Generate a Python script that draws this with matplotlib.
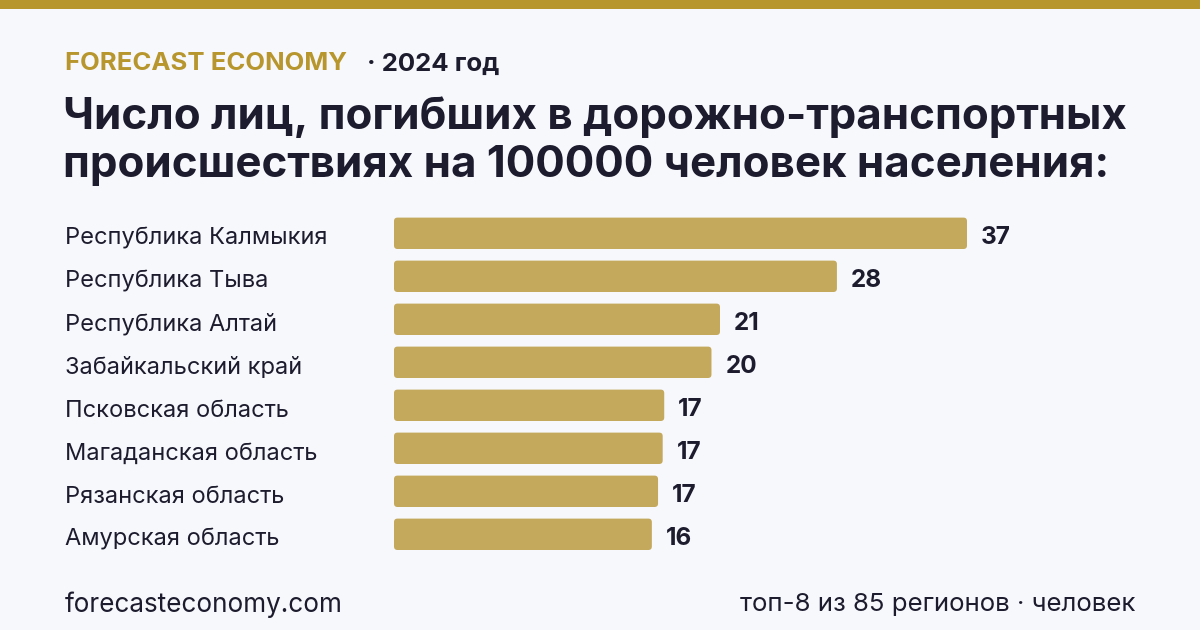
import matplotlib
matplotlib.use("Agg")
import matplotlib.pyplot as plt
from matplotlib import transforms
from matplotlib.patches import FancyBboxPatch, Rectangle

regions = ["Республика Калмыкия", "Республика Тыва", "Республика Алтай",
           "Забайкальский край", "Псковская область", "Магаданская область",
           "Рязанская область", "Амурская область"]
values = [37.0, 28.6, 21.05, 20.5, 17.45, 17.35, 17.05, 16.65]
value_labels = ["37", "28", "21", "20", "17", "17", "17", "16"]

brand = "FORECAST ECONOMY"
year_text = "· 2024 год"
title_lines = ["Число лиц, погибших в дорожно-транспортных",
               "происшествиях на 100000 человек населения:"]
footer_left = "forecasteconomy.com"
footer_right = "топ-8 из 85 регионов · человек"

BG = "#f7f8fc"
GOLD = "#b8962e"
BAR = "#c4a95c"
DARK = "#1c1c2e"
FONT = ["Inter", "DejaVu Sans"]
plt.rcParams["font.family"] = FONT

W, H, DPI = 1200, 630, 100
PT = 72 / DPI  # points per pixel
fig = plt.figure(figsize=(W / DPI, H / DPI), dpi=DPI, facecolor=BG)

def fx(px):
    return px / W

def fy(py):
    return 1 - py / H

# top gold strip
fig.patches.append(Rectangle((0, fy(9)), 1, 9 / H, transform=fig.transFigure,
                             facecolor=GOLD, edgecolor="none", zorder=5))

# header
fig.text(fx(65), fy(70.5), brand, color=GOLD, fontsize=18.5, fontweight="bold",
         va="baseline", ha="left")
fig.text(fx(367), fy(70.5), year_text, color=DARK, fontsize=18.5, fontweight="bold",
         va="baseline", ha="left")
for i, line in enumerate(title_lines):
    fig.text(fx(63), fy(129.5 + 47.5 * i), line, color=DARK, fontsize=31.6,
             fontweight="bold", va="baseline", ha="left")

# axes
left_px, right_px = 394, 1135
top_px, bot_px = 211.8, 555.8
ax = fig.add_axes([fx(left_px), fy(bot_px), fx(right_px - left_px), (bot_px - top_px) / H])
ax.set_facecolor("none")
xmax = (right_px - left_px) / (573 / 37.0)
ax.set_xlim(0, xmax)
ax.set_ylim(len(regions) - 0.5, -0.5)
ax.axis("off")

ypos = list(range(len(regions)))
bars = ax.barh(ypos, values, height=0.73, color=BAR)

px_per_x = (right_px - left_px) / xmax
px_per_y = (bot_px - top_px) / len(regions)
radius_px = 3.5
for rect in bars:
    x, y = rect.get_x(), rect.get_y()
    w, h = rect.get_width(), rect.get_height()
    rect.set_visible(False)
    patch = FancyBboxPatch((x, y), w, h,
                           boxstyle=f"round,pad=0,rounding_size={radius_px / px_per_x}",
                           mutation_aspect=px_per_x / px_per_y,
                           facecolor=BAR, edgecolor="none")
    ax.add_patch(patch)

for yi, v, lab in zip(ypos, values, value_labels):
    ax.annotate(lab, xy=(v, yi), xytext=(14 * PT, -10.7 * PT), textcoords="offset points",
                ha="left", va="baseline", color=DARK, fontsize=17.5, fontweight="bold")

trans = transforms.blended_transform_factory(fig.transFigure, ax.transData)
for yi, name in zip(ypos, regions):
    ax.annotate(name, xy=(fx(65), yi), xycoords=trans, xytext=(0, -11.4 * PT),
                textcoords="offset points", ha="left", va="baseline",
                color=DARK, fontsize=17)

# footer
fig.text(fx(65), fy(605), footer_left, color=DARK, fontsize=18.8, va="center", ha="left")
fig.text(fx(1135), fy(605), footer_right, color=DARK, fontsize=18.6, va="center", ha="right")

fig.savefig("out.png", dpi=DPI, facecolor=BG)
